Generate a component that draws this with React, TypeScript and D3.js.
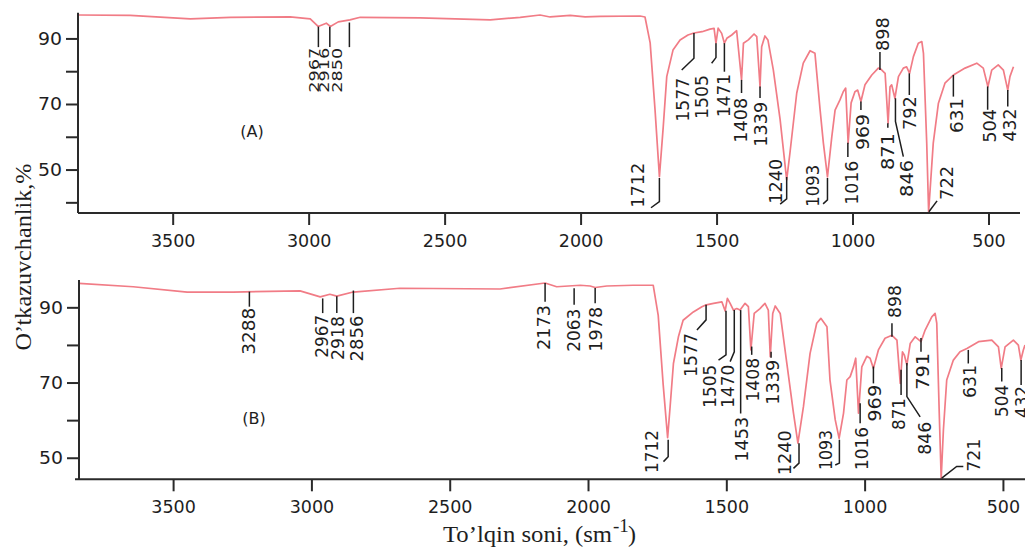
import React from "react";
import * as d3 from "d3";

const W = 1025;
const H = 548;

// ---- Spectrum (A): wavenumber (cm-1) and transmittance (%) ----
const wnA = [3849, 3658, 3437, 3290, 3070, 2996, 2967, 2937, 2922, 2893, 2850, 2812, 2592, 2334, 2224, 2151, 2114, 2040, 1985, 1930, 1783, 1765, 1746, 1728, 1712, 1698, 1685, 1662, 1636, 1607, 1585, 1555, 1526, 1511, 1504, 1496, 1483, 1473, 1464, 1446, 1428, 1410, 1403, 1385, 1364, 1354, 1342, 1336, 1324, 1313, 1293, 1268, 1244, 1232, 1207, 1183, 1158, 1140, 1121, 1109, 1094, 1078, 1066, 1048, 1036, 1027, 1018, 1007, 993, 983, 971, 956, 931, 907, 898, 882, 871, 864, 858, 846, 833, 815, 803, 792, 778, 760, 747, 741, 729, 722, 705, 686, 662, 631, 588, 545, 521, 504, 490, 466, 447, 431, 423, 410];
const tA = [97.3, 97.2, 96.1, 96.6, 96.7, 96.1, 93.8, 94.8, 93.8, 95.2, 95.8, 96.6, 96.4, 95.8, 96.6, 97.3, 96.7, 97.2, 96.7, 96.9, 97.0, 96.7, 88.8, 68.3, 48.0, 63.1, 78.5, 86.6, 89.7, 91.2, 91.8, 92.2, 93.0, 93.2, 88.7, 93.3, 91.7, 88.7, 90.2, 91.2, 92.5, 77.5, 88.7, 89.7, 91.5, 90.7, 75.4, 87.6, 90.9, 89.7, 80.5, 65.3, 47.0, 55.2, 73.5, 82.6, 86.4, 85.6, 68.3, 58.2, 47.9, 60.2, 68.3, 71.4, 73.9, 75.0, 58.2, 70.5, 73.9, 74.4, 70.9, 76.0, 79.0, 81.1, 80.8, 79.5, 64.3, 75.4, 76.0, 71.9, 78.5, 81.1, 81.5, 79.5, 84.6, 88.7, 89.2, 85.6, 58.2, 37.3, 58.2, 70.4, 76.5, 79.0, 81.1, 82.6, 81.1, 75.4, 80.5, 82.1, 80.5, 74.4, 78.5, 81.5];

// ---- Spectrum (B) ----
const wnB = [3842, 3646, 3451, 3285, 3043, 2970, 2935, 2910, 2851, 2682, 2320, 2157, 2115, 2030, 1994, 1976, 1934, 1839, 1766, 1748, 1730, 1714, 1705, 1693, 1675, 1658, 1621, 1590, 1578, 1548, 1518, 1506, 1498, 1488, 1476, 1464, 1452, 1434, 1422, 1413, 1401, 1380, 1362, 1350, 1343, 1334, 1325, 1307, 1283, 1259, 1243, 1223, 1199, 1175, 1160, 1138, 1127, 1108, 1094, 1078, 1066, 1054, 1042, 1034, 1024, 1012, 994, 982, 970, 952, 928, 903, 885, 873, 865, 858, 849, 837, 819, 798, 783, 759, 747, 741, 732, 725, 717, 705, 681, 657, 632, 590, 542, 518, 508, 494, 464, 446, 437, 428, 422];
const tB = [96.5, 95.6, 94.2, 94.2, 94.5, 92.9, 93.6, 93.1, 94.2, 95.2, 95.0, 96.6, 95.6, 96.0, 95.8, 95.4, 95.8, 96.0, 96.0, 88.0, 69.5, 55.5, 63.7, 75.2, 82.3, 86.7, 88.9, 90.3, 90.7, 91.2, 91.6, 89.2, 92.5, 91.2, 89.4, 89.8, 89.4, 91.2, 90.3, 78.8, 88.5, 89.8, 91.2, 89.4, 77.0, 88.5, 90.5, 88.5, 75.2, 62.0, 54.0, 63.7, 77.9, 85.9, 87.2, 85.0, 70.8, 60.2, 55.3, 62.0, 70.8, 71.7, 74.3, 76.6, 62.0, 74.3, 77.1, 76.6, 73.9, 78.8, 81.9, 82.7, 81.4, 69.9, 78.3, 77.4, 74.8, 80.5, 82.3, 81.0, 84.1, 87.6, 88.5, 85.9, 62.0, 44.6, 57.5, 70.8, 76.1, 78.3, 79.2, 81.0, 81.4, 79.6, 73.9, 79.6, 81.4, 80.1, 76.1, 78.8, 80.1];

// ---- Axis ticks ----
const xTickValues = [3500, 3000, 2500, 2000, 1500, 1000, 500];
const yTickValues = [90, 80, 70, 60, 50, 40];
const yTickLabelValues = [90, 70, 50];

// ---- Peak annotations: label, leader polyline [wn, T], text anchor (wn, T at text start), text length ----
type Ann = { t: string; pts: [number, number][]; tx: number; ty: number; len: number; fs?: number };

const annA: Ann[] = [
  { t: "2967", pts: [[2966, 93.75], [2966, 87.5]], tx: 2984, ty: 73.6, len: 45, fs: 14 },
  { t: "2916", pts: [[2924, 93.75], [2924, 87.5]], tx: 2944, ty: 73.6, len: 45, fs: 14 },
  { t: "2850", pts: [[2852, 95.0], [2852, 87.5]], tx: 2898, ty: 73.6, len: 45, fs: 14 },
  { t: "1712", pts: [[1712, 47.6], [1712, 40.4], [1743, 38.5]], tx: 1790, ty: 38.5, len: 45 },
  { t: "1577", pts: [[1585, 91.8], [1585, 84.1], [1630, 80.5]], tx: 1626, ty: 64.7, len: 44 },
  { t: "1505", pts: [[1504, 88.7], [1504, 84.3], [1520, 82.6]], tx: 1555, ty: 65.6, len: 44 },
  { t: "1471", pts: [[1473, 88.7], [1473, 80.0]], tx: 1473, ty: 66.2, len: 43 },
  { t: "1408", pts: [[1410, 77.5], [1410, 73.5]], tx: 1412, ty: 58.3, len: 45 },
  { t: "1339", pts: [[1342, 75.5], [1342, 72.0]], tx: 1338, ty: 57.1, len: 45 },
  { t: "1240", pts: [[1244, 47.9], [1244, 41.2], [1268, 39.6]], tx: 1283, ty: 39.7, len: 45 },
  { t: "1093", pts: [[1094, 47.6], [1094, 40.9], [1110, 39.7]], tx: 1146, ty: 38.8, len: 42 },
  { t: "1016", pts: [[1019, 58.3], [1019, 54.0]], tx: 1005, ty: 39.4, len: 44 },
  { t: "969", pts: [[971, 70.9], [971, 68.3]], tx: 962, ty: 56.1, len: 36 },
  { t: "898", pts: [[901, 80.5], [901, 86.0]], tx: 888, ty: 86.3, len: 34 },
  { t: "871", pts: [[872, 64.3], [872, 62.9]], tx: 871, ty: 50.0, len: 37 },
  { t: "846", pts: [[844, 71.9], [844, 64.8], [815, 54.1]], tx: 803, ty: 41.8, len: 37 },
  { t: "792", pts: [[793, 79.5], [793, 72.9]], tx: 790, ty: 62.2, len: 34 },
  { t: "722", pts: [[721, 37.3], [691, 40.6]], tx: 655, ty: 40.9, len: 34 },
  { t: "631", pts: [[631, 79.0], [631, 72.4]], tx: 619, ty: 61.3, len: 35 },
  { t: "504", pts: [[505, 75.5], [505, 68.4]], tx: 496, ty: 58.3, len: 34 },
  { t: "432", pts: [[431, 74.4], [431, 69.4]], tx: 423, ty: 58.7, len: 33 },
];

const annB: Ann[] = [
  { t: "3288", pts: [[3226, 94.3], [3226, 90.3]], tx: 3229, ty: 77.5, len: 47 },
  { t: "2967", pts: [[2961, 92.5], [2961, 88.6]], tx: 2964, ty: 76.7, len: 43 },
  { t: "2918", pts: [[2910, 93.1], [2910, 88.6]], tx: 2904, ty: 76.1, len: 44 },
  { t: "2856", pts: [[2850, 94.6], [2850, 88.6]], tx: 2838, ty: 75.7, len: 46 },
  { t: "2173", pts: [[2157, 96.6], [2157, 91.6]], tx: 2160, ty: 78.8, len: 45 },
  { t: "2063", pts: [[2052, 95.2], [2052, 90.8]], tx: 2052, ty: 78.3, len: 43 },
  { t: "1978", pts: [[1976, 95.3], [1976, 91.2]], tx: 1974, ty: 78.3, len: 45 },
  { t: "1712", pts: [[1712, 54.9], [1712, 50.4], [1729, 49.1]], tx: 1771, ty: 46.1, len: 43 },
  { t: "1577", pts: [[1575, 90.8], [1575, 86.8], [1608, 84.1]], tx: 1630, ty: 71.6, len: 44 },
  { t: "1505", pts: [[1503, 89.2], [1503, 77.5], [1530, 76.1]], tx: 1560, ty: 63.4, len: 43 },
  { t: "1470", pts: [[1473, 89.4], [1473, 78.3], [1488, 75.7]], tx: 1494, ty: 63.4, len: 43 },
  { t: "1453", pts: [[1450, 89.4], [1450, 61.9]], tx: 1446, ty: 49.1, len: 45 },
  { t: "1408", pts: [[1410, 79.7], [1410, 77.5]], tx: 1404, ty: 65.0, len: 44 },
  { t: "1339", pts: [[1340, 78.3], [1340, 76.7]], tx: 1332, ty: 64.2, len: 45 },
  { t: "1240", pts: [[1239, 54.0], [1239, 48.7], [1259, 47.3]], tx: 1289, ty: 45.5, len: 45 },
  { t: "1093", pts: [[1093, 54.9], [1093, 48.7], [1108, 48.2]], tx: 1142, ty: 46.9, len: 40 },
  { t: "1016", pts: [[1018, 64.6], [1018, 59.3]], tx: 1012, ty: 46.9, len: 43 },
  { t: "969", pts: [[970, 74.4], [970, 69.9]], tx: 964, ty: 59.7, len: 37 },
  { t: "898", pts: [[903, 82.3], [903, 85.9]], tx: 892, ty: 87.3, len: 33 },
  { t: "871", pts: [[870, 73.5], [870, 66.8]], tx: 876, ty: 57.5, len: 32 },
  { t: "846", pts: [[849, 75.3], [849, 66.4], [801, 61.0]], tx: 783, ty: 50.9, len: 33 },
  { t: "791", pts: [[798, 82.0], [798, 78.3]], tx: 789, ty: 68.2, len: 37 },
  { t: "721", pts: [[723, 44.7], [669, 47.8], [645, 47.8]], tx: 608, ty: 46.4, len: 33 },
  { t: "631", pts: [[627, 78.8], [627, 75.2]], tx: 620, ty: 66.0, len: 33 },
  { t: "504", pts: [[506, 74.0], [506, 70.4]], tx: 506, ty: 61.0, len: 32 },
  { t: "432", pts: [[436, 76.1], [436, 69.5]], tx: 432, ty: 60.7, len: 32 },
];

const CURVE = "#f17c86";
const INK = "#1e1e1e";
const AXIS = "#2a2a2a";
const SANS = "'DejaVu Sans', Verdana, sans-serif";
const SERIF = "'Liberation Serif', 'Times New Roman', serif";

type PanelProps = {
  wn: number[];
  t: number[];
  ann: Ann[];
  tag: string;
  tagPos: [number, number];
  xDomain: [number, number];
  xRange: [number, number];
  yDomain: [number, number];
  yRange: [number, number];
  axisX0: number;
  axisX1: number;
};

function Panel(p: PanelProps) {
  const x = d3.scaleLinear().domain(p.xDomain).range(p.xRange);
  const y = d3.scaleLinear().domain(p.yDomain).range(p.yRange);
  const pts: [number, number][] = p.wn.map((w, i) => [w, p.t[i]]);
  const line = d3
    .line<[number, number]>()
    .x((d) => x(d[0]))
    .y((d) => y(d[1]))
    .curve(d3.curveLinear);
  const yBottom = p.yRange[0];
  const yTop = p.yRange[1];
  const xLeft = p.xRange[0];
  const yTicks = yTickValues.filter((v) => v >= p.yDomain[0] && v <= p.yDomain[1]);
  const leader = d3
    .line<[number, number]>()
    .x((d) => x(d[0]))
    .y((d) => y(d[1]));

  return (
    <g>
      <path d={line(pts) || ""} fill="none" stroke={CURVE} strokeWidth={1.7} strokeLinejoin="round" />
      {/* axes */}
      <line x1={xLeft} x2={xLeft} y1={yTop} y2={yBottom} stroke={AXIS} strokeWidth={2} />
      <line x1={p.axisX0} x2={p.axisX1} y1={yBottom} y2={yBottom} stroke={AXIS} strokeWidth={2} />
      {yTicks.map((v) => (
        <line key={"yt" + v} x1={xLeft - 12} x2={xLeft} y1={y(v)} y2={y(v)} stroke={AXIS} strokeWidth={2} />
      ))}
      {yTickLabelValues.map((v) => (
        <text
          key={"yl" + v}
          x={xLeft - 16}
          y={y(v)}
          textAnchor="end"
          dominantBaseline="central"
          fontFamily={SANS}
          fontSize={17}
          fill={INK}
          textLength={24}
          lengthAdjust="spacingAndGlyphs"
        >
          {v}
        </text>
      ))}
      {xTickValues.map((v) => (
        <g key={"xt" + v}>
          <line x1={x(v)} x2={x(v)} y1={yBottom} y2={yBottom + 12} stroke={AXIS} strokeWidth={2} />
          <text
            x={x(v)}
            y={yBottom + 28}
            textAnchor="middle"
            dominantBaseline="central"
            fontFamily={SANS}
            fontSize={17.5}
            fill={INK}
          >
            {v}
          </text>
        </g>
      ))}
      {/* annotations */}
      {p.ann.map((a, i) => (
        <g key={"an" + i}>
          <path d={leader(a.pts) || ""} fill="none" stroke={INK} strokeWidth={1.5} />
          <text
            transform={`translate(${x(a.tx)},${y(a.ty)}) rotate(-90)`}
            textAnchor="start"
            dominantBaseline="central"
            fontFamily={SANS}
            fontSize={a.fs ?? 17}
            fill={INK}
            textLength={a.len}
            lengthAdjust="spacingAndGlyphs"
          >
            {a.t}
          </text>
        </g>
      ))}
      <text
        x={x(p.tagPos[0])}
        y={y(p.tagPos[1])}
        textAnchor="middle"
        dominantBaseline="central"
        fontFamily={SANS}
        fontSize={16}
        fill={INK}
      >
        {p.tag}
      </text>
    </g>
  );
}

export default function App() {
  return (
    <svg
      width={W}
      height={H}
      viewBox={`0 0 ${W} ${H}`}
      style={{ position: "absolute", left: 0, top: 0, background: "#fff" }}
    >
      <rect x={0} y={0} width={W} height={H} fill="#fff" />
      <Panel
        wn={wnA}
        t={tA}
        ann={annA}
        tag="(A)"
        tagPos={[3210, 61.9]}
        xDomain={[3850, 386]}
        xRange={[78, 1020]}
        yDomain={[36.9, 98]}
        yRange={[213, 12.7]}
        axisX0={78}
        axisX1={1020}
      />
      <Panel
        wn={wnB}
        t={tB}
        ann={annB}
        tag="(B)"
        tagPos={[3209, 60.7]}
        xDomain={[3842, 422]}
        xRange={[79, 1025]}
        yDomain={[44.4, 97.4]}
        yRange={[479.3, 280]}
        axisX0={75}
        axisX1={1025}
      />
      {/* axis titles */}
      <text
        transform="translate(31,257) rotate(-90)"
        textAnchor="middle"
        fontFamily={SERIF}
        fontSize={24}
        fill={INK}
        textLength={187}
        lengthAdjust="spacingAndGlyphs"
      >
        O’tkazuvchanlik,%
      </text>
      <text
        x={443}
        y={542}
        fontFamily={SERIF}
        fontSize={24}
        fill={INK}
        textLength={169}
        lengthAdjust="spacingAndGlyphs"
      >
        To’lqin soni, (sm
      </text>
      <text x={613} y={532} fontFamily={SERIF} fontSize={19} fill={INK}>
        -1
      </text>
      <text x={628} y={542} fontFamily={SERIF} fontSize={24} fill={INK}>
        )
      </text>
    </svg>
  );
}
